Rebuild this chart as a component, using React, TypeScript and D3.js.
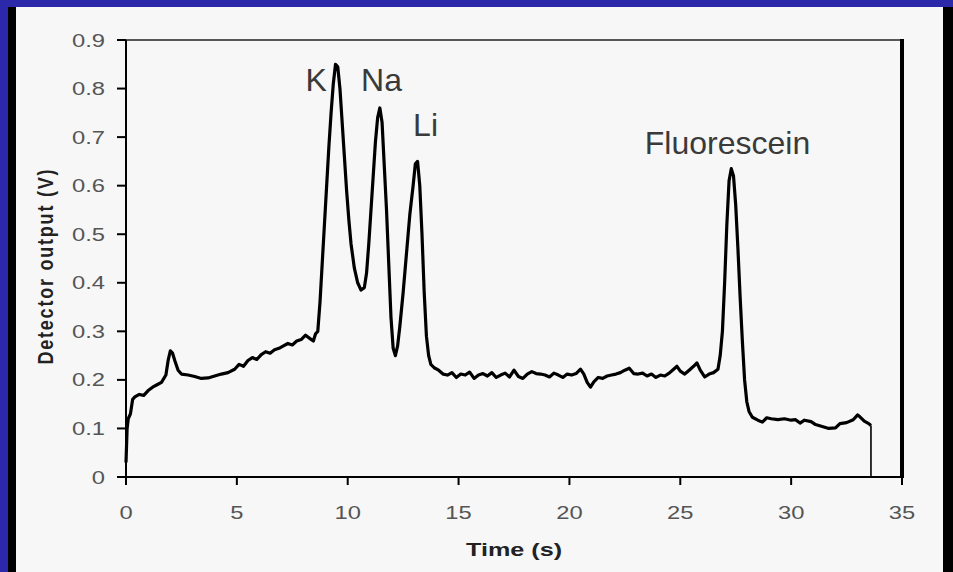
import React from "react";
import * as d3 from "d3";

// ---- data ----
const timeS = [
  0, 0.05, 0.1, 0.2, 0.3, 0.4, 0.6, 0.8, 1.0, 1.2, 1.4, 1.6, 1.8, 1.9, 2.0, 2.1, 2.2, 2.35, 2.5, 2.8,
  3.1, 3.4, 3.7, 4.0, 4.3, 4.6, 4.9, 5.1, 5.3, 5.5, 5.7, 5.9, 6.1, 6.3, 6.5, 6.7, 6.9, 7.1, 7.3, 7.5,
  7.7, 7.9, 8.1, 8.3, 8.45, 8.55, 8.65, 8.75, 8.85, 8.95, 9.05, 9.15, 9.25, 9.35, 9.45, 9.55, 9.65, 9.75,
  9.85, 9.95, 10.05, 10.15, 10.3, 10.45, 10.6, 10.75, 10.85, 10.95, 11.05, 11.15, 11.25, 11.35, 11.45,
  11.55, 11.65, 11.75, 11.85, 11.95, 12.05, 12.15, 12.25, 12.35, 12.5, 12.65, 12.8, 12.95, 13.05, 13.15,
  13.25, 13.35, 13.45, 13.55, 13.65, 13.75, 13.9, 14.1, 14.3, 14.5, 14.7, 14.9, 15.1, 15.3, 15.5, 15.7,
  15.9, 16.1, 16.3, 16.5, 16.7, 16.9, 17.1, 17.3, 17.5, 17.7, 17.9, 18.1, 18.3, 18.5, 18.7, 18.9, 19.1,
  19.3, 19.5, 19.7, 19.9, 20.1, 20.3, 20.5, 20.65, 20.8, 20.95, 21.1, 21.3, 21.5, 21.7, 21.9, 22.1, 22.3,
  22.5, 22.7, 22.9, 23.1, 23.3, 23.5, 23.7, 23.9, 24.1, 24.3, 24.5, 24.7, 24.85, 25.0, 25.2, 25.4, 25.6,
  25.75, 25.9, 26.1, 26.3, 26.5, 26.7, 26.8, 26.9, 27.0, 27.1, 27.2, 27.3, 27.4, 27.5, 27.6, 27.7, 27.8,
  27.9, 28.0, 28.1, 28.25, 28.5, 28.7, 28.9, 29.1, 29.4, 29.7, 30.0, 30.2, 30.4, 30.6, 30.9, 31.1, 31.4,
  31.7, 32.0, 32.2, 32.5, 32.8, 33.0, 33.1, 33.3, 33.5, 33.6,
];
const outputV = [
  0.03, 0.1, 0.12, 0.13, 0.16, 0.165, 0.17, 0.168, 0.178, 0.185, 0.19, 0.195, 0.21, 0.24, 0.26, 0.255, 0.24, 0.22, 0.212, 0.21,
  0.207, 0.203, 0.204, 0.208, 0.212, 0.215, 0.222, 0.232, 0.228, 0.24, 0.246, 0.242, 0.252, 0.258, 0.255, 0.262, 0.265, 0.27, 0.275, 0.272,
  0.28, 0.283, 0.292, 0.285, 0.28, 0.295, 0.3, 0.36, 0.44, 0.52, 0.6, 0.68, 0.75, 0.81, 0.85, 0.845, 0.8, 0.73,
  0.66, 0.59, 0.53, 0.48, 0.43, 0.4, 0.385, 0.39, 0.42, 0.48, 0.55, 0.62, 0.69, 0.74, 0.76,
  0.73, 0.64, 0.55, 0.44, 0.33, 0.265, 0.25, 0.27, 0.31, 0.38, 0.46, 0.54, 0.6, 0.645, 0.65,
  0.6, 0.5, 0.38, 0.29, 0.25, 0.232, 0.225, 0.22, 0.212, 0.21, 0.215, 0.205, 0.212, 0.21, 0.216, 0.203,
  0.21, 0.213, 0.208, 0.215, 0.205, 0.21, 0.214, 0.206, 0.22, 0.207, 0.203, 0.212, 0.217, 0.213, 0.212, 0.21, 0.206,
  0.214, 0.21, 0.205, 0.212, 0.21, 0.213, 0.222, 0.212, 0.195, 0.185, 0.196, 0.205, 0.203, 0.208, 0.21, 0.212, 0.215,
  0.22, 0.224, 0.213, 0.212, 0.214, 0.208, 0.212, 0.205, 0.21, 0.208, 0.214, 0.222, 0.228, 0.218, 0.212, 0.22, 0.228,
  0.235, 0.22, 0.206, 0.212, 0.215, 0.222, 0.25, 0.3, 0.4, 0.52, 0.61, 0.635, 0.62, 0.56, 0.47, 0.37, 0.28,
  0.2, 0.155, 0.135, 0.123, 0.117, 0.113, 0.122, 0.12, 0.118, 0.12, 0.117, 0.118, 0.111, 0.117, 0.114, 0.108, 0.104,
  0.1, 0.101, 0.11, 0.112, 0.118, 0.128, 0.124, 0.115, 0.11, 0.106,
];
// final drop of the trace to zero
const endTime = 33.6;
const endValue = 0;

const xTicks = [0, 5, 10, 15, 20, 25, 30, 35];
const yTicks = [0, 0.1, 0.2, 0.3, 0.4, 0.5, 0.6, 0.7, 0.8, 0.9];
const yTickLabels = ["0", "0.1", "0.2", "0.3", "0.4", "0.5", "0.6", "0.7", "0.8", "0.9"];

const peakNames = ["K", "Na", "Li", "Fluorescein"];
const peakTimes = [8.1, 10.6, 12.95, 23.4];
const peakLabelValues = [0.795, 0.795, 0.702, 0.665];

const xTitle = "Time (s)";
const yTitle = "Detector output (V)";

export default function App() {
  const W = 953;
  const H = 572;
  const left = 126;
  const right = 902;
  const top = 40;
  const bottom = 477;

  const x = d3.scaleLinear().domain([0, 35]).range([left, right]);
  const y = d3.scaleLinear().domain([0, 0.9]).range([bottom, top]);

  const pts: [number, number][] = timeS.map((t, i) => [t, outputV[i]]);
  const line = d3
    .line<[number, number]>()
    .x((d) => x(d[0]))
    .y((d) => y(d[1]));
  const dropPts: [number, number][] = [
    [timeS[timeS.length - 1], outputV[outputV.length - 1]],
    [endTime, endValue],
  ];

  const tickFont = "'Liberation Sans', Arial, sans-serif";
  const tickColor = "#555";

  return (
    <svg
      width={W}
      height={H}
      style={{ position: "absolute", left: 0, top: 0 }}
      xmlns="http://www.w3.org/2000/svg"
    >
      {/* frame */}
      <rect x={0} y={0} width={W} height={H} fill="#2C28AA" />
      <rect x={8} y={7} width={W - 8} height={H - 7} fill="#000" />
      <rect x={16} y={7} width={927} height={H - 7} fill="#F7F7F7" />

      {/* plot borders */}
      <line x1={left - 9} x2={right} y1={top} y2={top} stroke="#222" strokeWidth={1.6} />
      <line x1={right} x2={right} y1={top - 1} y2={bottom + 1} stroke="#000" strokeWidth={4} />
      <line x1={left} x2={left} y1={top} y2={bottom + 1} stroke="#000" strokeWidth={2} />
      <line x1={left - 9} x2={right} y1={bottom} y2={bottom} stroke="#000" strokeWidth={2} />

      {/* y ticks */}
      {yTicks.map((v, i) => (
        <g key={"y" + i}>
          <line x1={left - 9} x2={left} y1={y(v)} y2={y(v)} stroke="#000" strokeWidth={2} />
          <text
            transform={`translate(${left - 21},${y(v) + 6.5}) scale(1.25,1)`}
            textAnchor="end"
            fontFamily={tickFont}
            fontSize={19}
            fill={tickColor}
          >
            {yTickLabels[i]}
          </text>
        </g>
      ))}

      {/* x ticks */}
      {xTicks.map((t, i) => (
        <g key={"x" + i}>
          <line x1={x(t)} x2={x(t)} y1={bottom} y2={bottom + 8} stroke="#000" strokeWidth={2} />
          <text
            transform={`translate(${x(t)},${519}) scale(1.25,1)`}
            textAnchor="middle"
            fontFamily={tickFont}
            fontSize={19}
            fill={tickColor}
          >
            {String(t)}
          </text>
        </g>
      ))}

      {/* axis titles */}
      <text
        transform={`translate(${514},${556}) scale(1.4,1)`}
        textAnchor="middle"
        fontFamily={tickFont}
        fontWeight="bold"
        fontSize={18}
        fill="#222"
      >
        {xTitle}
      </text>
      <text
        transform={`translate(${53},${267}) scale(1.25,1) rotate(-90)`}
        textAnchor="middle"
        fontFamily={tickFont}
        fontWeight="bold"
        fontSize={18}
        fill="#222"
        textLength={195}
        lengthAdjust="spacing"
      >
        {yTitle}
      </text>

      {/* trace */}
      <path d={line(pts) || ""} fill="none" stroke="#000" strokeWidth={3.2} strokeLinejoin="round" />
      <path d={line(dropPts) || ""} fill="none" stroke="#000" strokeWidth={1.6} />

      {/* peak labels */}
      {peakNames.map((n, i) => (
        <text
          key={n}
          x={x(peakTimes[i])}
          y={y(peakLabelValues[i])}
          fontFamily={tickFont}
          fontSize={32}
          fill="#3a3a3a"
        >
          {n}
        </text>
      ))}
    </svg>
  );
}
